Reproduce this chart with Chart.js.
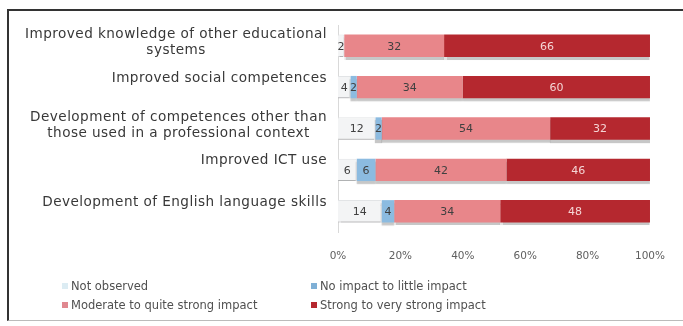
<!DOCTYPE html>
<html>
<head>
<meta charset="utf-8">
<script src="https://cdn.jsdelivr.net/npm/chart.js@4/dist/chart.umd.min.js"></script>
<style>
  html, body { margin: 0; padding: 0; background: #fff; }
  #wrap { position: relative; width: 683px; height: 326px; overflow: hidden; font-family: "DejaVu Sans", Verdana, sans-serif; }
  #frame { position: absolute; left: 7px; top: 9px; width: 690px; height: 312px; border-left: 2px solid #333; border-top: 2px solid #333; border-bottom: 1px solid #bbb; box-sizing: border-box; }
  canvas { position: absolute; left: 0; top: 0; }
  .lg { position: absolute; font-size: 11.5px; color: #505050; white-space: nowrap; line-height: 16px; }
  .lg i { display: inline-block; width: 6px; height: 6px; margin-right: 3px; vertical-align: 1px; }
</style>
</head>
<body>
<div id="wrap">
  <div id="frame"></div>
  <canvas id="c" width="683" height="326"></canvas>
  <div id="legend"></div>
</div>
<script>
const categories = [
  ["Improved knowledge of other educational", "systems"],
  ["Improved social competences"],
  ["Development of competences other than", "those used in a professional context"],
  ["Improved ICT use"],
  ["Development of English language skills"]
];
const seriesNames = ["Not observed", "No impact to little impact", "Moderate to quite strong impact", "Strong to very strong impact"];
const notObserved = [2, 4, 12, 6, 14];
const noImpact = [0, 2, 2, 6, 4];
const moderate = [32, 34, 54, 42, 34];
const strong = [66, 60, 32, 46, 48];
const xTicks = [0, 20, 40, 60, 80, 100];

const colors = ["#f3f4f5", "#8cbbe0", "#e8868a", "#b5282f"];
const labelColors = ["#404040", "#404040", "#404040", "#f5d5d5"];
const legendColors = ["#dcecf3", "#7fb0d6", "#e08890", "#b5282f"];

const shadowPlugin = {
  id: 'shadow',
  beforeDatasetsDraw(chart) {
    const ctx = chart.ctx;
    ctx.save();
    ctx.shadowColor = 'rgba(0,0,0,0.22)';
    ctx.shadowOffsetY = 3;
    ctx.shadowBlur = 1;
  },
  afterDatasetsDraw(chart) {
    chart.ctx.restore();
    const ctx = chart.ctx;
    ctx.save();
    ctx.font = '11px "DejaVu Sans", sans-serif';
    ctx.textAlign = 'center';
    ctx.textBaseline = 'middle';
    chart.data.datasets.forEach((ds, di) => {
      const meta = chart.getDatasetMeta(di);
      meta.data.forEach((bar, i) => {
        const v = ds.data[i];
        if (!v) return;
        const p = bar.getCenterPoint();
        ctx.fillStyle = labelColors[di];
        ctx.fillText(String(v), p.x, p.y + 1);
      });
    });
    ctx.restore();
  }
};

const yLabelPlugin = {
  id: 'ylabels',
  afterDraw(chart) {
    const ctx = chart.ctx;
    const ys = chart.scales.y;
    ctx.save();
    ctx.font = '13.6px "DejaVu Sans", sans-serif';
    try { ctx.letterSpacing = '0.45px'; } catch (e) {}
    ctx.fillStyle = '#383838';
    ctx.textAlign = 'center';
    ctx.textBaseline = 'middle';
    const right = ys.right - 11;
    const lh = 16.5;
    categories.forEach((lines, i) => {
      const cy = ys.getPixelForValue(i) + (lines.length > 1 ? -3 : -9);
      const w = Math.max(...lines.map(l => ctx.measureText(l).width));
      const cx = right - w / 2;
      const y0 = cy - (lines.length - 1) * lh / 2;
      lines.forEach((l, k) => ctx.fillText(l, cx, y0 + k * lh));
    });
    ctx.restore();
  }
};

const series = [notObserved, noImpact, moderate, strong];
const chart = new Chart(document.getElementById('c'), {
  type: 'bar',
  data: {
    labels: categories.map(c => c.join(' ')),
    datasets: series.map((d, i) => ({
      label: seriesNames[i],
      data: d,
      backgroundColor: colors[i],
      borderColor: i === 0 ? '#e2e4e6' : colors[i],
      borderWidth: i === 0 ? 1 : 0,
      barPercentage: 0.54,
      categoryPercentage: 1.0
    }))
  },
  options: {
    indexAxis: 'y',
    responsive: false,
    animation: false,
    layout: { padding: { top: 25, right: 23, bottom: 64, left: 0 } },
    plugins: { legend: { display: false }, tooltip: { enabled: false } },
    scales: {
      x: {
        stacked: true,
        min: 0, max: 100,
        afterBuildTicks(s) { s.ticks = xTicks.map(v => ({ value: v })); },
        grid: { display: false, drawTicks: false },
        border: { display: false },
        ticks: {
          padding: 18,
          color: '#606060',
          font: { family: '"DejaVu Sans", sans-serif', size: 10.5 },
          callback: v => v + '%'
        },
        afterFit(s) { s.height = 30; }
      },
      y: {
        stacked: true,
        grid: { display: false },
        border: { display: true, color: '#d9d9d9' },
        ticks: { display: false },
        afterFit(s) { s.width = 338; }
      }
    }
  },
  plugins: [shadowPlugin, yLabelPlugin]
});

// HTML legend built from the chart's datasets (2 columns)
const lg = document.getElementById('legend');
const pos = [[62, 278], [311, 278], [62, 297], [311, 297]];
chart.data.datasets.forEach((ds, i) => {
  const d = document.createElement('div');
  d.className = 'lg';
  d.style.left = pos[i][0] + 'px';
  d.style.top = pos[i][1] + 'px';
  d.innerHTML = '<i style="background:' + legendColors[i] + '"></i>' + ds.label;
  lg.appendChild(d);
});
</script>
</body>
</html>
